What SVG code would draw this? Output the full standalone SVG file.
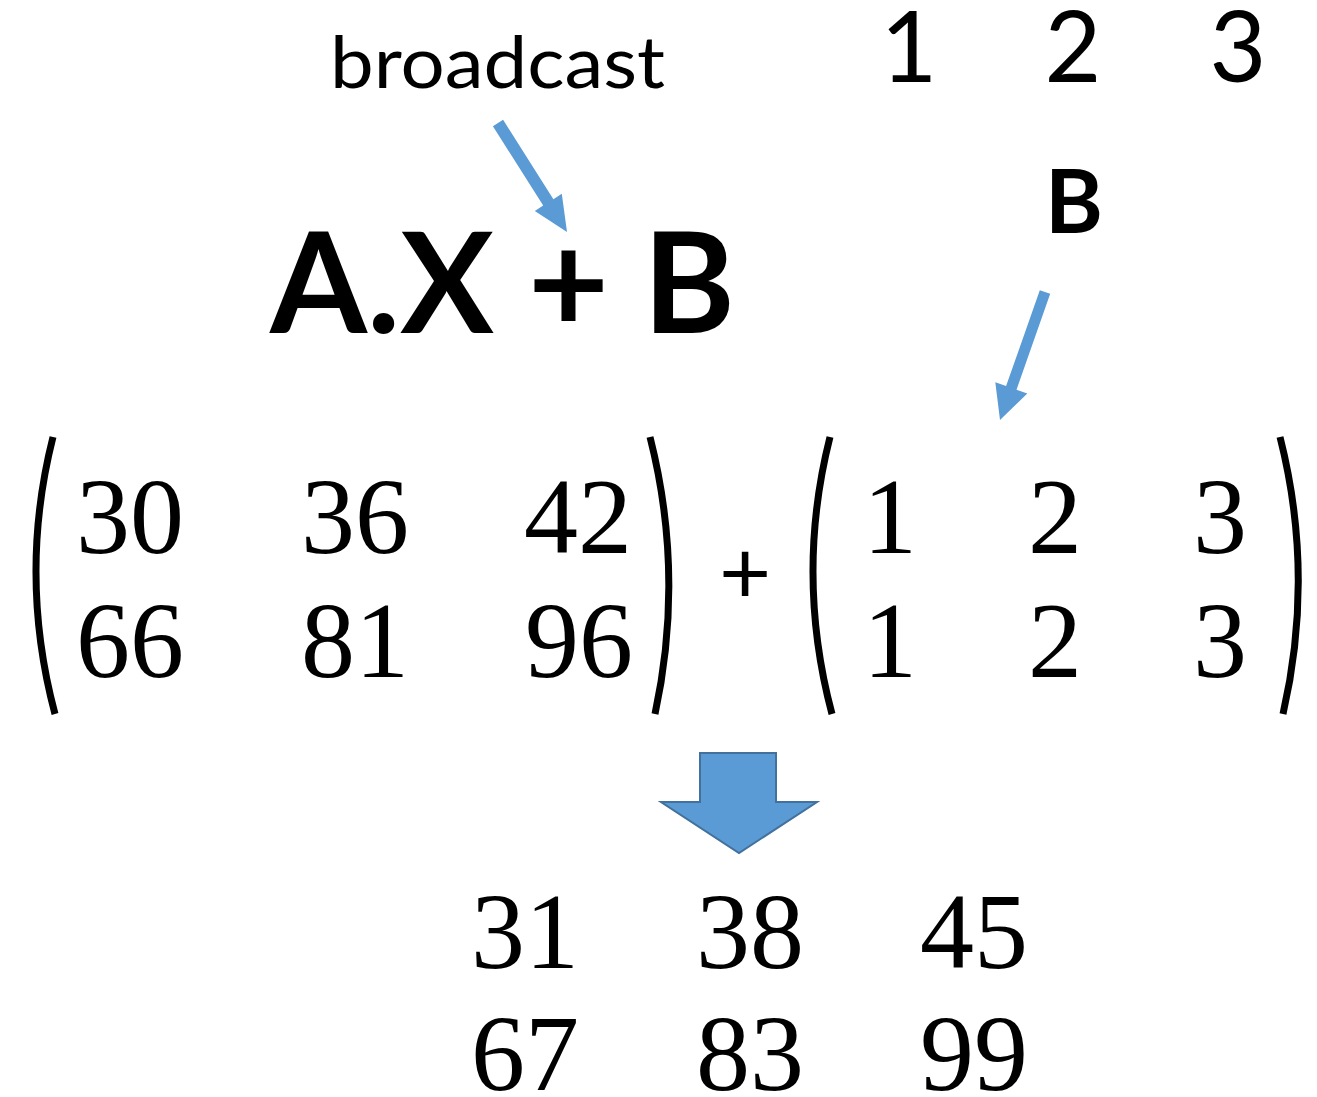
<svg xmlns="http://www.w3.org/2000/svg" width="1317" height="1097" viewBox="0 0 1317 1097">
<style>
.sans{font-family:Lato,"Open Sans",sans-serif;fill:#000}
.num{font-family:"Liberation Serif",serif;font-size:108px;fill:#000;text-anchor:middle}
.paren{fill:none;stroke:#000;stroke-width:7;stroke-linecap:butt}
.arrow{fill:#5B9BD5}
</style>
<rect width="1317" height="1097" fill="#fff"/>
<g id="label-broadcast"><text class="sans" x="330" y="88" font-size="72" textLength="335" lengthAdjust="spacingAndGlyphs">broadcast</text></g>
<g id="vector-top">
<text class="sans" x="909" y="82" font-size="98" text-anchor="middle">1</text>
<text class="sans" x="1073" y="82" font-size="98" text-anchor="middle">2</text>
<text class="sans" x="1238" y="82" font-size="98" text-anchor="middle">3</text>
</g>
<g id="label-B"><text class="sans" x="1074" y="233" font-size="88" font-weight="bold" text-anchor="middle">B</text></g>
<g id="formula"><text class="sans" x="270" y="333" font-size="140" font-weight="bold" textLength="465" lengthAdjust="spacingAndGlyphs">A.X + B</text></g>
<g id="matrix-AX">
<path class="paren" d="M53,437 Q18,575 55,714"/>
<path class="paren" d="M650,437 Q685,575 655,714"/>
<text class="num" x="130" y="553">30</text>
<text class="num" x="355" y="553">36</text>
<text class="num" x="578" y="553">42</text>
<text class="num" x="130" y="677">66</text>
<text class="num" x="355" y="677">81</text>
<text class="num" x="579" y="677">96</text>
</g>
<g id="plus"><text class="sans" x="745" y="604" font-size="90" text-anchor="middle">+</text></g>
<g id="matrix-B">
<path class="paren" d="M830,437 Q795,575 832,714"/>
<path class="paren" d="M1280,437 Q1315,575 1283,714"/>
<text class="num" x="890" y="553">1</text>
<text class="num" x="1055" y="553">2</text>
<text class="num" x="1220" y="553">3</text>
<text class="num" x="890" y="677">1</text>
<text class="num" x="1055" y="677">2</text>
<text class="num" x="1220" y="677">3</text>
</g>
<g id="result">
<text class="num" x="525" y="968">31</text>
<text class="num" x="750" y="968">38</text>
<text class="num" x="974" y="968">45</text>
<text class="num" x="525" y="1090">67</text>
<text class="num" x="750" y="1090">83</text>
<text class="num" x="974" y="1090">99</text>
</g>
<g id="connectors">
<polygon class="arrow" points="492.9,126.2 503.1,119.8 553.4,199.2 561.8,193.8 567,232 534.8,211 543.2,205.6"/>
<polygon class="arrow" points="1039.8,290.2 1050.2,293.8 1016.5,389.7 1027.3,393.5 1000,420 995.3,382.3 1006.1,386.1"/>
<polygon fill="#5B9BD5" stroke="#41719C" stroke-width="2" points="700,753 776,753 776,802 817,802 739,853 661,802 700,802"/>
</g>
</svg>
